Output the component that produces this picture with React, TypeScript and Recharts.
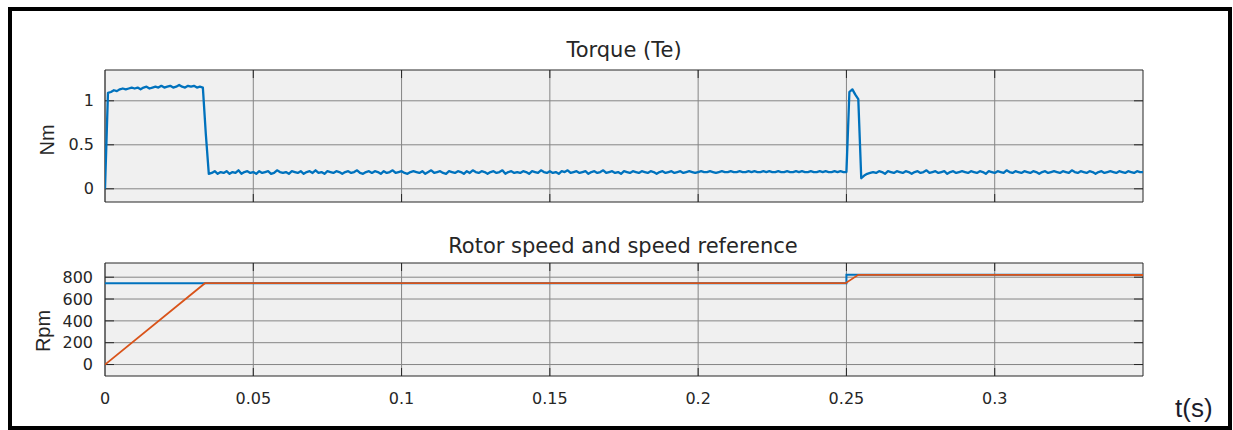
import React from 'react';
import { LineChart, Line, XAxis, YAxis, CartesianGrid, ReferenceArea, ReferenceLine } from 'recharts';

// time axis (s)
const timeTicks = [0, 0.05, 0.1, 0.15, 0.2, 0.25, 0.3];
const timeDomain = [0, 0.35];

// electromagnetic torque, sampled every 1 ms from t = 0
const torqueStep = 0.001;
const torqueNm = [
  0, 1.09, 1.1, 1.12, 1.11, 1.13, 1.14, 1.13, 1.14, 1.15,
  1.14, 1.15, 1.13, 1.15, 1.16, 1.14, 1.15, 1.16, 1.15, 1.17,
  1.15, 1.16, 1.17, 1.15, 1.16, 1.18, 1.16, 1.15, 1.17, 1.16,
  1.17, 1.15, 1.16, 1.15, 0.62, 0.17, 0.18, 0.2, 0.17, 0.19,
  0.18, 0.2, 0.17, 0.19, 0.18, 0.21, 0.17, 0.19, 0.2, 0.18,
  0.19, 0.17, 0.2, 0.18, 0.19, 0.2, 0.17, 0.18, 0.21, 0.19,
  0.18, 0.19, 0.17, 0.2, 0.19, 0.18, 0.2, 0.17, 0.19, 0.2,
  0.18, 0.21, 0.18, 0.19, 0.17, 0.2, 0.19, 0.18, 0.2, 0.19,
  0.17, 0.19, 0.2, 0.18, 0.19, 0.21, 0.18, 0.17, 0.19, 0.2,
  0.18, 0.2, 0.19, 0.17, 0.2, 0.18, 0.19, 0.21, 0.18, 0.19,
  0.2, 0.18, 0.17, 0.19, 0.2, 0.19, 0.18, 0.2, 0.17, 0.19,
  0.21, 0.18, 0.19, 0.2, 0.18, 0.17, 0.2, 0.19, 0.18, 0.2,
  0.19, 0.17, 0.2, 0.18, 0.21, 0.19, 0.18, 0.2, 0.19, 0.17,
  0.19, 0.2, 0.18, 0.19, 0.21, 0.17, 0.19, 0.2, 0.18, 0.19,
  0.18, 0.2, 0.19, 0.17, 0.2, 0.19, 0.18, 0.21, 0.19, 0.18,
  0.2, 0.18, 0.19, 0.17, 0.2, 0.19, 0.21, 0.18, 0.19, 0.2,
  0.18, 0.19, 0.2, 0.17, 0.19, 0.2, 0.18, 0.19, 0.21, 0.18,
  0.19, 0.2, 0.18, 0.19, 0.17, 0.2, 0.19, 0.18, 0.2, 0.19,
  0.18, 0.2, 0.19, 0.18, 0.2, 0.19, 0.17, 0.19, 0.2, 0.18,
  0.19, 0.2, 0.18, 0.19, 0.2, 0.18, 0.19, 0.2, 0.19, 0.18,
  0.19, 0.2, 0.19, 0.19, 0.2, 0.19, 0.18, 0.19, 0.2, 0.19,
  0.19, 0.2, 0.19, 0.19, 0.2, 0.19, 0.19, 0.2, 0.19, 0.2,
  0.19, 0.19, 0.2, 0.19, 0.2, 0.19, 0.19, 0.2, 0.19, 0.19,
  0.2, 0.19, 0.19, 0.2, 0.19, 0.2, 0.19, 0.19, 0.2, 0.19,
  0.19, 0.2, 0.19, 0.2, 0.19, 0.19, 0.2, 0.19, 0.2, 0.19,
  0.19, 1.1, 1.13, 1.07, 1.02, 0.12, 0.15, 0.17, 0.18, 0.19,
  0.18, 0.2, 0.19, 0.17, 0.2, 0.19, 0.18, 0.2, 0.19, 0.18,
  0.2, 0.19, 0.17, 0.19, 0.2, 0.18, 0.19, 0.21, 0.18, 0.19,
  0.2, 0.18, 0.19, 0.2, 0.17, 0.19, 0.2, 0.18, 0.19, 0.2,
  0.19, 0.18, 0.2, 0.19, 0.18, 0.2, 0.19, 0.17, 0.2, 0.19,
  0.18, 0.2, 0.19, 0.18, 0.21, 0.19, 0.18, 0.2, 0.19, 0.18,
  0.2, 0.19, 0.18, 0.2, 0.19, 0.17, 0.19, 0.2, 0.18, 0.19,
  0.2, 0.19, 0.18, 0.2, 0.19, 0.18, 0.21, 0.19, 0.18, 0.2,
  0.19, 0.18, 0.2, 0.19, 0.17, 0.19, 0.2, 0.18, 0.19, 0.2,
  0.19, 0.18, 0.2, 0.19, 0.18, 0.2, 0.19, 0.18, 0.2, 0.19,
  0.19,
];
const torqueTicks = [0, 0.5, 1];
const torqueDomain = [-0.15, 1.35];

// speed reference and measured rotor speed (rpm)
const speedRefTime = [0, 0.25, 0.25, 0.35];
const speedRefRpm = [745, 745, 822, 822];
const rotorSpeedTime = [0, 0.0337, 0.2497, 0.254, 0.35];
const rotorSpeedRpm = [0, 745, 745, 822, 820];
const speedTicks = [0, 200, 400, 600, 800];
const speedDomain = [-105, 930];

const BLUE = '#0072BD';
const ORANGE = '#D95319';
const AXIS = '#262626';
const GRID = '#858585';
const PLOT_BG = '#f0f0f0';

const torqueData = torqueNm.map((v, i) => ({ t: i * torqueStep, v }));
const speedRefData = speedRefTime.map((t, i) => ({ t, rpm: speedRefRpm[i] }));
const rotorSpeedData = rotorSpeedTime.map((t, i) => ({ t, rpm: rotorSpeedRpm[i] }));

const tickFont = { fontSize: 16, fill: AXIS, fontFamily: 'DejaVu Sans' };

// plot box geometry (px), shared by both axes
const PLOT_W = 1038;
const CHART_W = 1233;

// inner tick marks, like MATLAB's boxed axes
function boxTicks(yDomain: number[], yTicks: number[], plotH: number) {
  const xLen = ((timeDomain[1] - timeDomain[0]) * 9) / PLOT_W;
  const yLen = ((yDomain[1] - yDomain[0]) * 8) / plotH;
  const out: React.ReactNode[] = [];
  timeTicks.slice(1).forEach((t) => {
    out.push(
      <ReferenceLine key={`xb${t}`} segment={[{ x: t, y: yDomain[0] }, { x: t, y: yDomain[0] + yLen }]} stroke={AXIS} ifOverflow="visible" />,
      <ReferenceLine key={`xt${t}`} segment={[{ x: t, y: yDomain[1] }, { x: t, y: yDomain[1] - yLen }]} stroke={AXIS} ifOverflow="visible" />
    );
  });
  yTicks.forEach((v) => {
    out.push(
      <ReferenceLine key={`yl${v}`} segment={[{ x: timeDomain[0], y: v }, { x: timeDomain[0] + xLen, y: v }]} stroke={AXIS} ifOverflow="visible" />,
      <ReferenceLine key={`yr${v}`} segment={[{ x: timeDomain[1], y: v }, { x: timeDomain[1] - xLen, y: v }]} stroke={AXIS} ifOverflow="visible" />
    );
  });
  return out;
}

function TorqueChart() {
  return (
    <LineChart width={CHART_W} height={215} data={torqueData} margin={{ top: 70, right: 90, bottom: 13, left: 65 }}>
      <CartesianGrid
        fill={PLOT_BG}
        fillOpacity={1}
        stroke={GRID}
        verticalValues={timeTicks}
        horizontalValues={torqueTicks}
      />
      <XAxis dataKey="t" type="number" domain={timeDomain} ticks={timeTicks} allowDataOverflow hide />
      <YAxis
        type="number"
        domain={torqueDomain}
        ticks={torqueTicks}
        allowDataOverflow
        width={40}
        axisLine={false}
        tickLine={false}
        tickSize={0}
        tickMargin={11}
        tick={tickFont}
        interval={0}
      />
      <ReferenceArea x1={timeDomain[0]} x2={timeDomain[1]} y1={torqueDomain[0]} y2={torqueDomain[1]} fill="none" stroke={AXIS} ifOverflow="visible" />
      {boxTicks(torqueDomain, torqueTicks, 132)}
      <Line dataKey="v" type="linear" stroke={BLUE} strokeWidth={2.3} strokeLinejoin="round" dot={false} isAnimationActive={false} />
    </LineChart>
  );
}

function SpeedChart() {
  return (
    <LineChart width={CHART_W} height={215} margin={{ top: 48, right: 90, bottom: 24, left: 65 }}>
      <CartesianGrid
        fill={PLOT_BG}
        fillOpacity={1}
        stroke={GRID}
        verticalValues={timeTicks}
        horizontalValues={speedTicks}
      />
      <XAxis
        dataKey="t"
        type="number"
        domain={timeDomain}
        ticks={timeTicks}
        allowDataOverflow
        height={30}
        axisLine={false}
        tickLine={false}
        tickSize={0}
        tickMargin={17}
        tick={tickFont}
        interval={0}
      />
      <YAxis
        type="number"
        domain={speedDomain}
        ticks={speedTicks}
        allowDataOverflow
        width={40}
        axisLine={false}
        tickLine={false}
        tickSize={0}
        tickMargin={12}
        tick={tickFont}
        interval={0}
      />
      <ReferenceArea x1={timeDomain[0]} x2={timeDomain[1]} y1={speedDomain[0]} y2={speedDomain[1]} fill="none" stroke={AXIS} ifOverflow="visible" />
      {boxTicks(speedDomain, speedTicks, 113)}
      <Line data={speedRefData} dataKey="rpm" type="linear" stroke={BLUE} strokeWidth={2} dot={false} isAnimationActive={false} />
      <Line data={rotorSpeedData} dataKey="rpm" type="linear" stroke={ORANGE} strokeWidth={1.8} dot={false} isAnimationActive={false} />
    </LineChart>
  );
}

export default function App() {
  return (
    <div style={{ position: 'absolute', left: 0, top: 0, width: 1233, height: 430, background: '#fff', overflow: 'hidden' }}>
      <div
        style={{
          position: 'absolute',
          left: 8,
          top: 7,
          width: 1224,
          height: 423,
          border: '4px solid #000',
          boxSizing: 'border-box',
        }}
      />
      <div style={{ position: 'absolute', left: 0, top: 0 }}>
        <TorqueChart />
      </div>
      <div style={{ position: 'absolute', left: 0, top: 215 }}>
        <SpeedChart />
      </div>
      <svg width={1233} height={430} style={{ position: 'absolute', left: 0, top: 0, pointerEvents: 'none' }}>
        <g fontFamily="DejaVu Sans" fontSize={21} fill={AXIS} textAnchor="middle">
          <text x={624} y={57}>Torque (Te)</text>
          <text x={623} y={253}>Rotor speed and speed reference</text>
        </g>
        <g fontFamily="Liberation Sans" fontSize={20} fill={AXIS} textAnchor="middle">
          <text transform="translate(54 140) rotate(-90)">Nm</text>
          <text transform="translate(50 331) rotate(-90)">Rpm</text>
        </g>
        <text x={1175} y={417} fontFamily="Liberation Sans" fontSize={26} fill="#1c1c2c">t(s)</text>
      </svg>
    </div>
  );
}
